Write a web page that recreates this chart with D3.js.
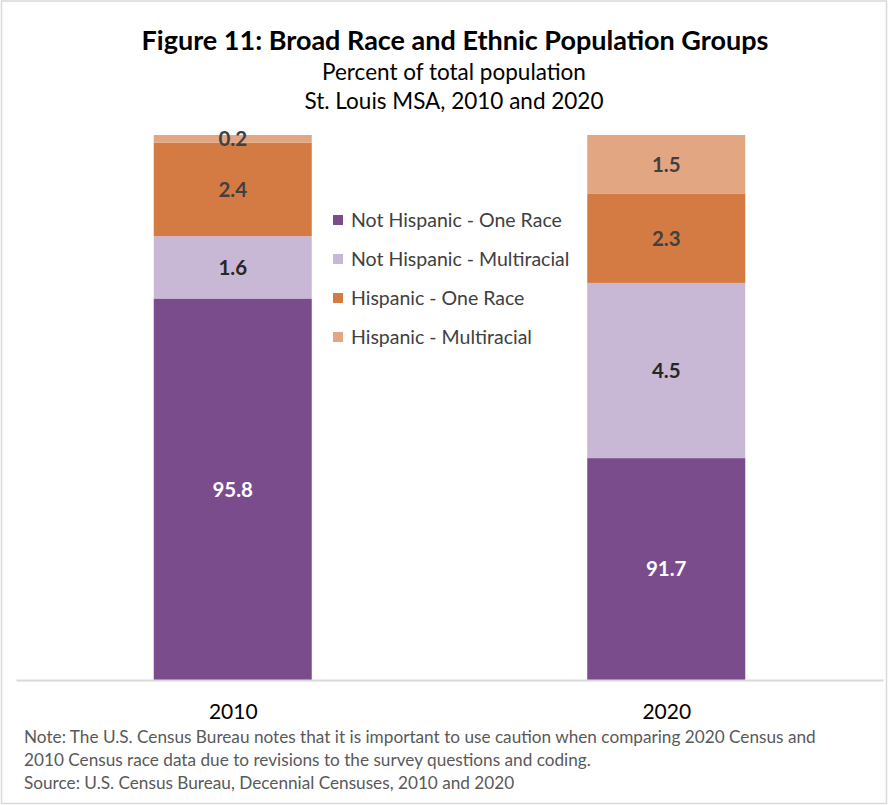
<!DOCTYPE html>
<html>
<head>
<meta charset="utf-8">
<script src="https://cdn.jsdelivr.net/npm/d3@7"></script>
<style>
  html, body { margin: 0; padding: 0; background: #fff; }
  svg { display: block; font-family: Lato, "Open Sans", sans-serif; }
</style>
</head>
<body>
<script>
// Census years shown as bars
const years = ["2010", "2020"];
// Stack segments, bottom to top
const groups = [
  "Not Hispanic - One Race",
  "Not Hispanic - Multiracial",
  "Hispanic - One Race",
  "Hispanic - Multiracial"
];
// Percent of total population per group, one array per year (order follows groups)
const values2010 = [95.8, 1.6, 2.4, 0.2];
const values2020 = [91.7, 4.5, 2.3, 1.5];
const groupColors = ["#7b4c8c", "#c9b8d5", "#d47b44", "#e2a683"];
const labelColors = ["#ffffff", "#262626", "#404040", "#404040"];

const W = 888, H = 805;
const svg = d3.select("body").append("svg").attr("width", W).attr("height", H);

// outer frame
svg.append("rect").attr("x", 1.5).attr("y", 1).attr("width", W - 3).attr("height", H - 2.5)
  .attr("fill", "#fff").attr("stroke", "#d9d9d9").attr("stroke-width", 1.5);

// titles
svg.append("text").attr("x", 455).attr("y", 50).attr("text-anchor", "middle")
  .attr("font-size", 27).attr("font-weight", 700).attr("fill", "#000")
  .text("Figure 11: Broad Race and Ethnic Population Groups");
svg.append("text").attr("x", 454).attr("y", 80).attr("text-anchor", "middle")
  .attr("font-size", 22.5).attr("fill", "#000").text("Percent of total population");
svg.append("text").attr("x", 454).attr("y", 109).attr("text-anchor", "middle")
  .attr("font-size", 22.5).attr("fill", "#000").text("St. Louis MSA, 2010 and 2020");

// scales: value axis starts at 86 so the smaller groups stay visible
const y = d3.scaleLinear().domain([86, 100]).range([680, 135]);
const x = d3.scalePoint().domain(years).range([16, 883]).padding(0.5);
const barW = 158;
const color = d3.scaleOrdinal().domain(groups).range(groupColors);

const table = years.map((yr, i) => {
  const vals = i === 0 ? values2010 : values2020;
  const row = { year: yr };
  groups.forEach((g, j) => row[g] = vals[j]);
  return row;
});
const series = d3.stack().keys(groups)(table);

const plot = svg.append("g");
series.forEach((s, si) => {
  s.forEach(d => {
    const yr = d.data.year;
    const lo = Math.max(d[0], 86);
    const hi = d[1];
    plot.append("rect")
      .attr("x", x(yr) - barW / 2)
      .attr("y", y(hi))
      .attr("width", barW)
      .attr("height", y(lo) - y(hi))
      .attr("fill", color(s.key));
    plot.append("text")
      .attr("x", x(yr))
      .attr("y", (y(lo) + y(hi)) / 2)
      .attr("dy", "0.36em")
      .attr("text-anchor", "middle")
      .attr("font-size", 20.5)
      .attr("font-weight", 700)
      .attr("fill", labelColors[si])
      .text(d3.format(".1f")(d[1] - d[0]));
  });
});

// category axis
const xAxis = svg.append("g").attr("transform", "translate(0,680)")
  .call(d3.axisBottom(x).tickSize(0).tickPadding(24));
xAxis.select(".domain").attr("stroke", "#d9d9d9").attr("stroke-width", 2);
xAxis.selectAll("text").attr("font-size", 21).attr("fill", "#000")
  .attr("font-family", "Lato, 'Open Sans', sans-serif");

// legend
const legend = svg.append("g").attr("transform", "translate(333,220)");
groups.forEach((g, i) => {
  const row = legend.append("g").attr("transform", `translate(0,${i * 39})`);
  row.append("rect").attr("x", 0).attr("y", -5).attr("width", 10).attr("height", 10)
    .attr("fill", color(g));
  row.append("text").attr("x", 18).attr("y", 0).attr("dy", "0.36em")
    .attr("font-size", 19.5).attr("fill", "#404040").text(g);
});

// notes
const notes = [
  "Note: The U.S. Census Bureau notes that it is important to use caution when comparing 2020 Census and",
  "2010 Census race data due to revisions to the survey questions and coding.",
  "Source: U.S. Census Bureau, Decennial Censuses, 2010 and 2020"
];
svg.append("g").selectAll("text").data(notes).join("text")
  .attr("x", 24).attr("y", (d, i) => 743 + i * 23)
  .attr("font-size", 17.2).attr("fill", "#595959").text(d => d);
</script>
</body>
</html>
